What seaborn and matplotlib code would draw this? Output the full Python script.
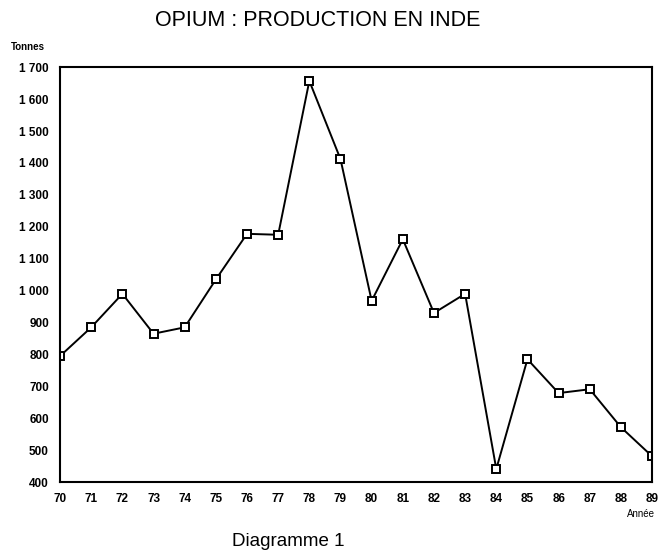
import matplotlib
matplotlib.use("Agg")
import matplotlib.pyplot as plt
import seaborn as sns
import pandas as pd
from matplotlib.ticker import FuncFormatter

# values (tonnes)
years = list(range(70, 90))
production = [795, 885, 990, 865, 885, 1035, 1178, 1175, 1657, 1412,
              968, 1161, 930, 990, 441, 785, 679, 691, 572, 481]
y_ticks = list(range(400, 1701, 100))

df = pd.DataFrame({"annee": years, "tonnes": production})

sns.set_style("white")
plt.rcParams["font.family"] = ["Liberation Sans", "DejaVu Sans"]
plt.rcParams["text.color"] = "black"
plt.rcParams["xtick.color"] = "black"
plt.rcParams["ytick.color"] = "black"

fig = plt.figure(figsize=(6.6, 5.51), dpi=100)
ax = fig.add_axes([0.091, 0.125, 0.897, 0.753])

sns.lineplot(data=df, x="annee", y="tonnes", ax=ax, color="black",
             linewidth=1.4, marker="s", markersize=5.5,
             markerfacecolor="white", markeredgecolor="black",
             markeredgewidth=1.4)

ax.set_xlim(70, 89)
ax.set_ylim(400, 1700)
ax.set_xticks(years)
ax.set_yticks(y_ticks)
ax.yaxis.set_major_formatter(
    FuncFormatter(lambda v, _: f"{int(v):,}".replace(",", " ")))
ax.tick_params(axis="both", direction="out", length=5, width=1.2,
               labelsize=8.5, color="black", labelcolor="black", pad=3)
for lab in ax.get_xticklabels() + ax.get_yticklabels():
    lab.set_fontweight("bold")
for s in ax.spines.values():
    s.set_visible(True)
    s.set_color("black")
    s.set_linewidth(1.5)
ax.set_xlabel("")
ax.set_ylabel("")

fig.text(0.482, 0.962, "OPIUM : PRODUCTION EN INDE", ha="center", va="center",
         fontsize=15.5, color="black")
fig.text(0.017, 0.915, "Tonnes", ha="left", va="center", fontsize=7,
         fontweight="bold", color="black")
fig.text(0.992, 0.068, "Année", ha="right", va="center", fontsize=7,
         color="black")
fig.text(0.436, 0.018, "Diagramme 1", ha="center", va="center",
         fontsize=13.5, color="black")

plt.savefig("out.png", dpi=100)
plt.close()
